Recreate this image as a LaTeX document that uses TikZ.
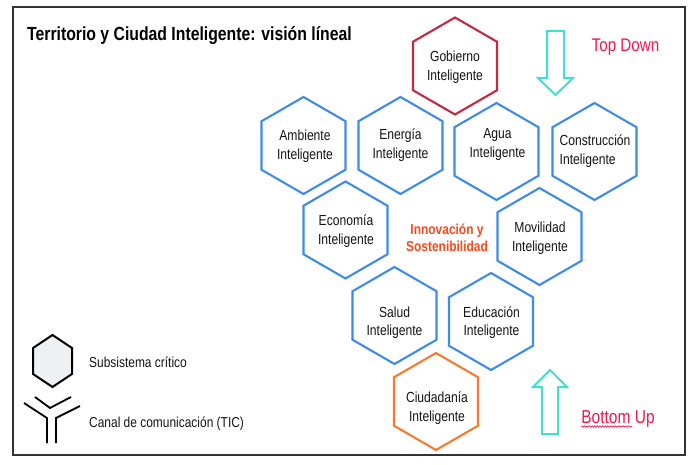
\documentclass[tikz,border=0pt]{standalone}
\usepackage{fontspec}
\setmainfont[FakeStretch=0.83]{Liberation Sans}
\usetikzlibrary{decorations.pathmorphing}
\definecolor{hexblue}{HTML}{3F8BEA}
\definecolor{gobred}{HTML}{C8283F}
\definecolor{ciudorange}{HTML}{F57C2E}
\definecolor{arrowcyan}{HTML}{40E0D0}
\definecolor{tdred}{HTML}{F0194B}
\definecolor{innovred}{HTML}{F54A1E}
\definecolor{txtgray}{HTML}{151515}
\definecolor{framegray}{HTML}{333333}
\definecolor{legfill}{HTML}{EEF1F4}
\begin{document}
\begin{tikzpicture}[x=1pt,y=-1pt,
  hexa/.pic={\draw[line width=2.1pt,line join=miter] (90:48.5) -- (150:48.5) -- (210:48.5) -- (270:48.5) -- (330:48.5) -- (30:48.5) -- cycle;},
  hexlabel/.style={font=\fontsize{14.6}{18.5}\selectfont, align=center, text=txtgray, inner sep=0pt},
  legtext/.style={font=\fontsize{14.4}{17}\selectfont, text=txtgray, inner sep=0pt, anchor=base west},
  bigarrow/.style={draw=arrowcyan, line width=2pt, line join=miter, fill=white}
]
\useasboundingbox (0,0) rectangle (693,465);
\fill[white] (0,0) rectangle (693,465);
\draw[framegray, line width=2pt] (13,7) rectangle (685,455);

% title
\node[inner sep=0pt, anchor=base west, font=\fontsize{19}{22}\selectfont\bfseries, text=black] (title) at (27,41) {Territorio y Ciudad Inteligente: visión líneal};

% hexagons
\pic[color=gobred] at (455,66) {hexa};
\pic[color=hexblue] at (303.5,145.5) {hexa};
\pic[color=hexblue] at (400.5,145.5) {hexa};
\pic[color=hexblue] at (496.5,151.5) {hexa};
\pic[color=hexblue] at (594.5,151.5) {hexa};
\pic[color=hexblue] at (345.5,230) {hexa};
\pic[color=hexblue] at (539.5,236.5) {hexa};
\pic[color=hexblue] at (394.5,315.5) {hexa};
\pic[color=hexblue] at (491,321.5) {hexa};
\pic[color=ciudorange] at (436,401.5) {hexa};

% hexagon labels
\node[hexlabel] (gob) at (455,67) {Gobierno\\Inteligente};
\node[hexlabel] (amb) at (305,146) {Ambiente\\Inteligente};
\node[hexlabel] (ene) at (400.5,145) {Energía\\Inteligente};
\node[hexlabel] (agu) at (497.5,144.5) {Agua\\Inteligente};
\node[hexlabel, align=left, anchor=west] (con) at (559.5,151) {Construcción\\Inteligente};
\node[hexlabel] (eco) at (346,231) {Economía\\Inteligente};
\node[hexlabel] (mov) at (540,238) {Movilidad\\Inteligente};
\node[hexlabel] (sal) at (394.5,322.5) {Salud\\Inteligente};
\node[hexlabel] (edu) at (491.5,322.5) {Educación\\Inteligente};
\node[hexlabel] (ciu) at (437,408) {Ciudadanía\\Inteligente};
\node[hexlabel, text=innovred, font=\fontsize{14.4}{17}\selectfont\bfseries] (inn) at (447,238) {Innovación y\\Sostenibilidad};

% arrows
\draw[bigarrow] (547,31) -- (564,31) -- (564,78) -- (573,78) -- (555.5,95) -- (538,78) -- (547,78) -- cycle;
\draw[bigarrow] (542,434) -- (558,434) -- (558,387) -- (567,387) -- (550,370) -- (533,387) -- (542,387) -- cycle;
\node[inner sep=0pt, anchor=base, font=\fontsize{18.3}{20}\selectfont, text=tdred] (td) at (625.5,52) {Top Down};
\node[inner sep=0pt, anchor=base, font=\fontsize{18.7}{20}\selectfont, text=tdred] (bu) at (618,423) {Bottom Up};
\draw[tdred, line width=0.6pt, decorate, decoration={snake, amplitude=0.8pt, segment length=2.6pt}] (581,426.5) -- (632,426.5);

% legend
\draw[black, line width=2pt, fill=legfill, line join=miter] (52.5,335) -- (72,348) -- (72,374) -- (52.5,387) -- (33,374) -- (33,348) -- cycle;
\node[legtext] (sub) at (89,367) {Subsistema crítico};
\draw[black, line width=1.8pt] (35,397) -- (50,408) -- (71,397);
\draw[black, line width=1.8pt] (24,403) -- (47,418) -- (47,443);
\draw[black, line width=1.8pt] (80,406) -- (56,418) -- (56,443);
\node[legtext] (tic) at (89,427) {Canal de comunicación (TIC)};
\end{tikzpicture}
\end{document}
